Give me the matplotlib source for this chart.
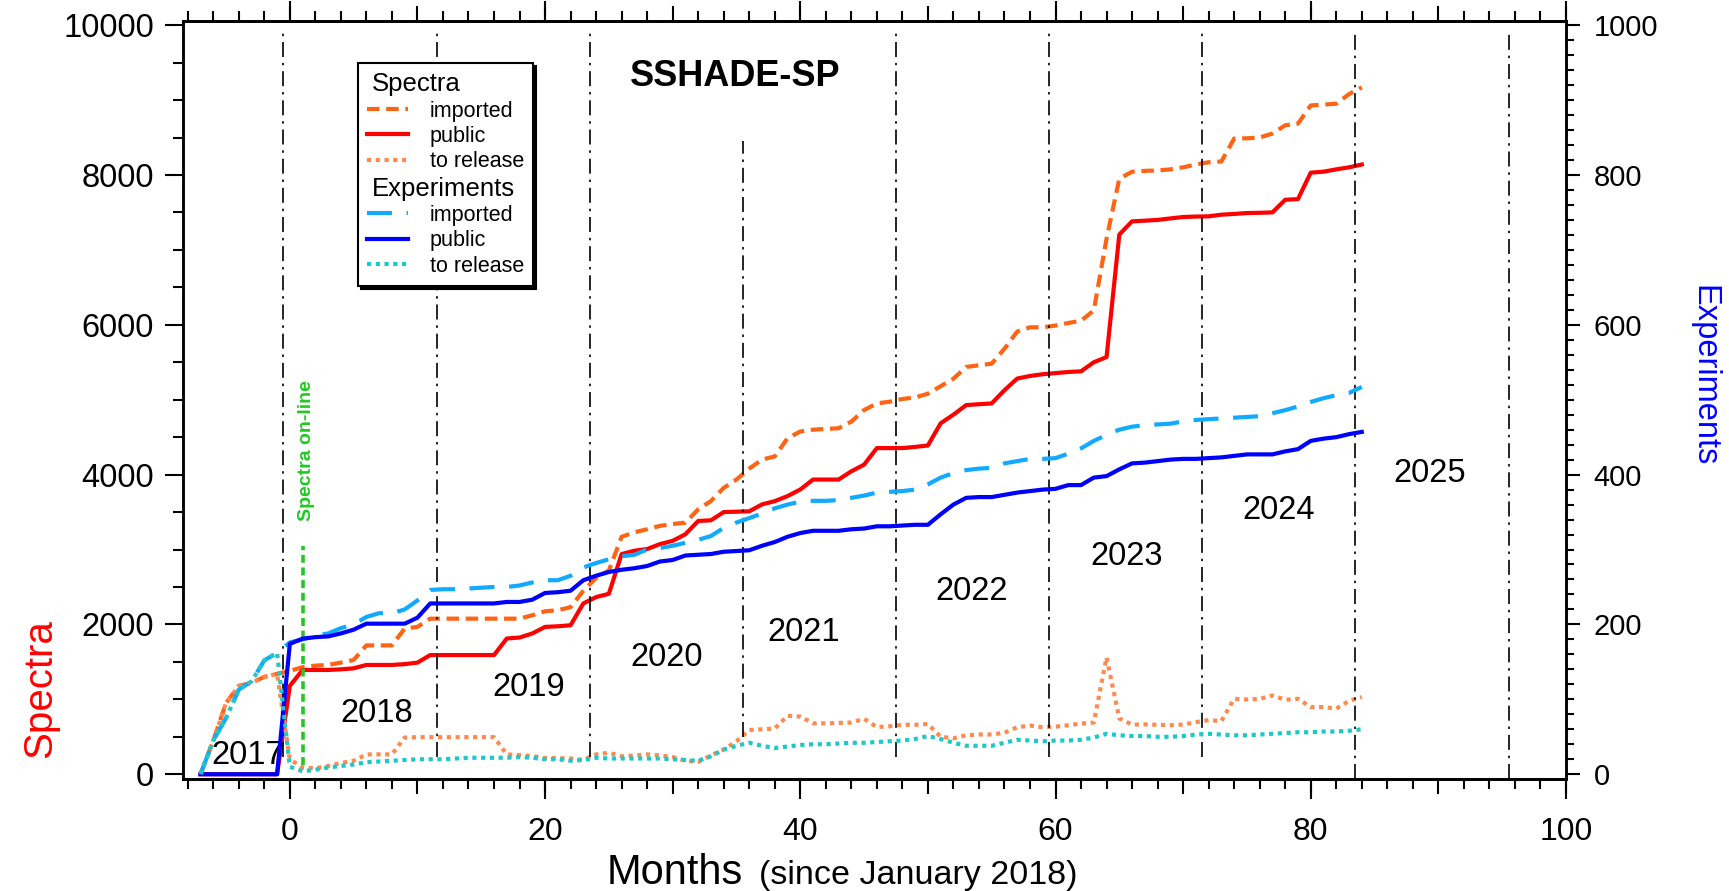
import matplotlib
matplotlib.use('Agg')
import matplotlib.pyplot as plt
import numpy as np
from matplotlib.ticker import MultipleLocator, FuncFormatter

plt.rcParams['font.family'] = ['Liberation Sans', 'DejaVu Sans']

# months since January 2018
months = np.arange(-7, 85)

# number of spectra (left axis)
spectra_imported = [
    0, 450, 950, 1180, 1220, 1300, 1340,
    1380, 1430, 1450, 1460, 1490, 1525, 1720, 1720, 1720, 1945, 1967, 2077,
    2077, 2077, 2077, 2077, 2077, 2077, 2077, 2122, 2175, 2190, 2230, 2450,
    2620, 2720, 3170, 3230, 3270, 3315, 3340, 3359, 3536, 3647, 3823, 3934,
    4080, 4200, 4243, 4486, 4575, 4600, 4610, 4619, 4707, 4862, 4950, 4973,
    5010, 5030, 5080, 5180, 5280, 5437, 5460, 5481, 5680, 5910, 5967, 5967,
    5990, 6024, 6055, 6190, 7150, 7950, 8044, 8055, 8060, 8075, 8102, 8140,
    8170, 8180, 8486, 8490, 8500, 8553, 8663, 8685, 8928, 8940, 8951, 9080, 9170]
spectra_public = [
    0, 0, 0, 0, 0, 0, 0,
    1180, 1392, 1392, 1392, 1400, 1414, 1459, 1459, 1459, 1470, 1490, 1591,
    1591, 1591, 1591, 1591, 1591, 1812, 1825, 1879, 1967, 1975, 1989, 2280,
    2365, 2409, 2939, 2984, 3006, 3072, 3116, 3204, 3381, 3390, 3500, 3505,
    3510, 3602, 3646, 3713, 3801, 3934, 3934, 3934, 4044, 4133, 4354, 4354,
    4354, 4370, 4389, 4685, 4800, 4928, 4940, 4950, 5127, 5282, 5317, 5340,
    5355, 5370, 5379, 5500, 5569, 7205, 7381, 7390, 7400, 7420, 7439, 7445,
    7448, 7470, 7480, 7492, 7495, 7501, 7669, 7678, 8031, 8044, 8075, 8102, 8140]
spectra_release = [
    0, 450, 950, 1180, 1220, 1300, 1340,
    200, 90, 80, 110, 150, 180, 265, 265, 265, 490, 495, 495,
    495, 495, 495, 495, 495, 265, 255, 243, 215, 215, 210, 190,
    265, 287, 240, 250, 265, 250, 230, 180, 165, 250, 330, 440,
    590, 600, 610, 780, 770, 680, 680, 685, 690, 740, 630, 640,
    660, 660, 670, 500, 480, 520, 530, 531, 553, 628, 650, 627,
    635, 654, 676, 690, 1560, 745, 663, 665, 660, 655, 663, 695,
    722, 710, 1006, 998, 1005, 1052, 994, 1007, 897, 896, 876, 978, 1030]

# number of experiments (right axis)
exp_imported = [
    0, 45, 75, 113, 124, 152, 162,
    176, 180, 185, 188, 195, 200, 210, 215, 215, 220, 232, 246,
    247, 247, 248, 249, 250, 250, 252, 256, 259, 259, 265, 276,
    282, 287, 291, 293, 300, 302, 305, 309, 313, 318, 329, 336,
    342, 348, 355, 360, 364, 365, 365, 366, 369, 372, 376, 377,
    378, 380, 387, 396, 402, 406, 408, 409, 415, 418, 421, 421,
    422, 428, 435, 445, 453, 460, 464, 466, 467, 468, 471, 473,
    474, 475, 476, 477, 478, 482, 486, 491, 497, 502, 506, 509, 517]
exp_public = [
    0, 0, 0, 0, 0, 0, 0,
    174, 181, 183, 184, 188, 193, 201, 201, 201, 201, 209, 228,
    228, 228, 228, 228, 228, 230, 230, 233, 242, 243, 245, 259,
    265, 270, 273, 275, 278, 284, 286, 292, 293, 294, 297, 298,
    299, 305, 310, 317, 322, 325, 325, 325, 327, 328, 331, 331,
    332, 333, 333, 347, 360, 369, 370, 370, 373, 376, 378, 380,
    381, 386, 386, 396, 398, 407, 415, 416, 418, 420, 421, 421,
    422, 423, 425, 427, 427, 427, 431, 434, 445, 448, 450, 454, 457]
exp_release = [
    0, 45, 75, 113, 124, 152, 162,
    10, 4, 6, 9, 11, 13, 16, 17, 18, 19, 20, 20,
    20, 21, 22, 22, 22, 22, 23, 22, 20, 20, 18, 19,
    22, 21, 21, 21, 21, 21, 20, 19, 18, 24, 33, 38,
    42, 38, 35, 37, 39, 40, 40, 41, 42, 42, 43, 44,
    45, 47, 51, 47, 42, 38, 38, 38, 42, 46, 45, 44,
    45, 45, 46, 49, 54, 52, 51, 51, 50, 50, 51, 53,
    54, 53, 52, 52, 53, 54, 55, 56, 56, 57, 57, 58, 60]

# year boundaries and labels
year_lines = [-0.5, 11.5, 23.5, 35.5, 47.5, 59.5, 71.5, 83.5, 95.5]
year_names = ['2017', '2018', '2019', '2020', '2021', '2022', '2023', '2024', '2025']
year_label_x = [-3.3, 6.8, 18.7, 29.5, 40.3, 53.4, 65.6, 77.5, 89.3]
year_label_y = [255, 805, 1160, 1560, 1890, 2440, 2905, 3525, 4010]
online_month = 1

fig = plt.figure(figsize=(17.29, 8.91), dpi=100)
ax = fig.add_axes([0.1060, 0.1260, 0.7997, 0.8508])
ax2 = ax.twinx()

lw = 3.0
s_imp, = ax.plot(months, spectra_imported, color='#ff6414', lw=lw, dashes=(3, 1.6))
s_pub, = ax.plot(months, spectra_public, color='#ff0000', lw=lw)
s_rel, = ax.plot(months, spectra_release, color='#ff8a50', lw=lw, dashes=(1, 1.1))
e_imp, = ax2.plot(months, exp_imported, color='#12aaff', lw=lw, dashes=(6, 3.5))
e_pub, = ax2.plot(months, exp_public, color='#0000ff', lw=lw)
e_rel, = ax2.plot(months, exp_release, color='#1ec8c8', lw=lw, dashes=(1, 1.1))

# year separators
for x in year_lines:
    lo, hi = 0.029, 0.985
    if x == 35.5:
        lo, hi = 0.055, 0.841
    if x >= 83:
        lo = 0.0
    ax.axvline(x, lo, hi, color='black', lw=1.2, dashes=(9, 3.5, 1.5, 3.5))
for name, x, y in zip(year_names, year_label_x, year_label_y):
    ax.text(x, y, name, fontsize=23.5, ha='center', va='center')

# spectra on-line marker
ax.plot([online_month, online_month], [120, 3050], color='#22c822', lw=2.6, dashes=(2.2, 1.3))
ax.text(online_month + 0.3, 4320, 'Spectra on-line', rotation=90, color='#22c822',
        fontsize=14, fontweight='bold', ha='center', va='center')

ax.text(0.3994, 0.9257, 'SSHADE-SP', transform=ax.transAxes, ha='center', va='center',
        fontsize=26, fontweight='bold')

# axes, ticks
ax.set_xlim(-8.35, 100)
ax.set_ylim(-60, 10060)
ax2.set_ylim(-6, 1006)
ax.xaxis.set_major_locator(MultipleLocator(10))
ax.xaxis.set_minor_locator(MultipleLocator(2))
ax.xaxis.set_major_formatter(FuncFormatter(lambda v, p: '%d' % v if v % 20 == 0 else ''))
ax.yaxis.set_major_locator(MultipleLocator(2000))
ax.yaxis.set_minor_locator(MultipleLocator(500))
ax2.yaxis.set_major_locator(MultipleLocator(200))
ax2.yaxis.set_minor_locator(MultipleLocator(20))

ax.tick_params(axis='x', which='both', direction='out', top=True, bottom=True, width=1.5)
ax.tick_params(axis='x', which='major', length=10.8, labelsize=23, pad=16.5)
ax.tick_params(axis='x', which='minor', length=7.2)
ax.tick_params(axis='y', which='both', direction='out', left=True, right=False, width=1.5)
ax.tick_params(axis='y', which='major', length=13, labelsize=23.5, pad=8)
ax.tick_params(axis='y', which='minor', length=7.2)
ax2.tick_params(axis='y', which='both', direction='out', width=1.5)
ax2.tick_params(axis='y', which='major', length=10, labelsize=21, pad=10)
ax2.tick_params(axis='y', which='minor', length=6)

for pos in ['bottom', 'top']:
    sec = ax.secondary_xaxis(pos)
    sec.set_xticks(range(0, 101, 20))
    sec.set_xticklabels([])
    sec.tick_params(length=14.4, width=1.5, direction='out')
    sec.spines[pos].set_linewidth(1.8)

for a in (ax, ax2):
    for sp in a.spines.values():
        sp.set_linewidth(1.8)

# axis titles
fig.text(0.023, 0.227, 'Spectra', rotation=90, color='red', fontsize=29, ha='center', va='center')
fig.text(0.9855, 0.578, 'Experiments', rotation=270, color='blue', fontsize=23.5,
         ha='center', va='center')
fig.text(0.3509, 0.0075, 'Months', fontsize=30, ha='left', va='baseline')
fig.text(0.4388, 0.0075, '(since January 2018)', fontsize=24.5, ha='left', va='baseline')

# legend with two header rows
handles = [plt.Line2D([], [], linestyle='none'), s_imp, s_pub, s_rel,
           plt.Line2D([], [], linestyle='none'), e_imp, e_pub, e_rel]
labels = ['Spectra', 'imported', 'public', 'to release',
          'Experiments', 'imported', 'public', 'to release']
leg = ax2.legend(handles, labels, loc='upper left', bbox_to_anchor=(0.1263, 0.944),
                 borderaxespad=0, fancybox=False, edgecolor='black', framealpha=1,
                 shadow={'color': 'black', 'alpha': 1}, fontsize=15.5, handlelength=1.9,
                 handletextpad=1.0, labelspacing=0.2, borderpad=0.43)
leg.get_frame().set_linewidth(1.5)
rows = leg._legend_handle_box.get_children()[0].get_children()
for row, lab in zip(rows, labels):
    if lab in ('Spectra', 'Experiments'):
        row.get_children()[0].set_width(0)
        row.sep = 3.6
for t in leg.get_texts():
    if t.get_text() in ('Spectra', 'Experiments'):
        t.set_fontsize(18.5)

fig.savefig('out.png', dpi=100)
